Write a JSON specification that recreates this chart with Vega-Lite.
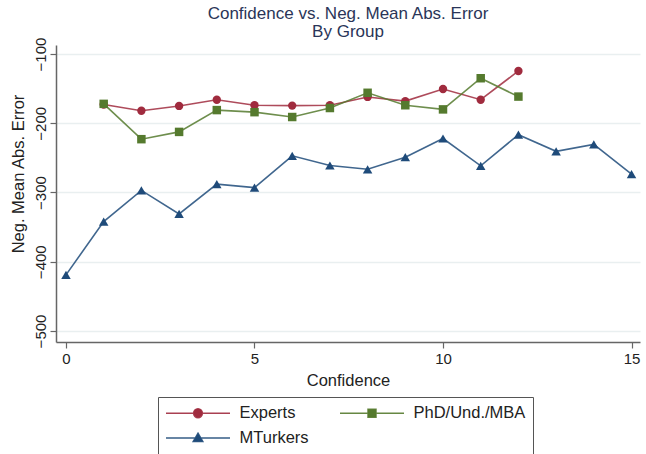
{
  "$schema": "https://vega.github.io/schema/vega-lite/v6.json",
  "width": 584,
  "height": 297,
  "autosize": {"type": "none"},
  "padding": {"left": 56, "top": 45, "right": 6, "bottom": 112},
  "background": "white",
  "config": {
    "font": "Liberation Sans",
    "view": {"stroke": null}
  },
  "title": {
    "text": "Confidence vs. Neg. Mean Abs. Error",
    "subtitle": "By Group",
    "fontSize": 17,
    "subtitleFontSize": 17,
    "fontWeight": "normal",
    "color": "#2a3558",
    "subtitleColor": "#2a3558",
    "subtitlePadding": 1,
    "anchor": "middle",
    "offset": -4
  },
  "data": {
    "values": [
      {"conf": 1, "err": -173, "group": "Experts"},
      {"conf": 2, "err": -182, "group": "Experts"},
      {"conf": 3, "err": -175, "group": "Experts"},
      {"conf": 4, "err": -166, "group": "Experts"},
      {"conf": 5, "err": -174, "group": "Experts"},
      {"conf": 6, "err": -174.5, "group": "Experts"},
      {"conf": 7, "err": -174, "group": "Experts"},
      {"conf": 8, "err": -162, "group": "Experts"},
      {"conf": 9, "err": -168, "group": "Experts"},
      {"conf": 10, "err": -150.5, "group": "Experts"},
      {"conf": 11, "err": -166, "group": "Experts"},
      {"conf": 12, "err": -124.5, "group": "Experts"},
      {"conf": 1, "err": -172, "group": "PhD/Und./MBA"},
      {"conf": 2, "err": -223, "group": "PhD/Und./MBA"},
      {"conf": 3, "err": -212.5, "group": "PhD/Und./MBA"},
      {"conf": 4, "err": -181, "group": "PhD/Und./MBA"},
      {"conf": 5, "err": -184, "group": "PhD/Und./MBA"},
      {"conf": 6, "err": -191, "group": "PhD/Und./MBA"},
      {"conf": 7, "err": -178, "group": "PhD/Und./MBA"},
      {"conf": 8, "err": -156, "group": "PhD/Und./MBA"},
      {"conf": 9, "err": -174, "group": "PhD/Und./MBA"},
      {"conf": 10, "err": -180, "group": "PhD/Und./MBA"},
      {"conf": 11, "err": -135, "group": "PhD/Und./MBA"},
      {"conf": 12, "err": -161.5, "group": "PhD/Und./MBA"},
      {"conf": 0, "err": -419, "group": "MTurkers"},
      {"conf": 1, "err": -342, "group": "MTurkers"},
      {"conf": 2, "err": -297, "group": "MTurkers"},
      {"conf": 3, "err": -331, "group": "MTurkers"},
      {"conf": 4, "err": -288, "group": "MTurkers"},
      {"conf": 5, "err": -293, "group": "MTurkers"},
      {"conf": 6, "err": -247, "group": "MTurkers"},
      {"conf": 7, "err": -261, "group": "MTurkers"},
      {"conf": 8, "err": -266.5, "group": "MTurkers"},
      {"conf": 9, "err": -249, "group": "MTurkers"},
      {"conf": 10, "err": -222, "group": "MTurkers"},
      {"conf": 11, "err": -261.5, "group": "MTurkers"},
      {"conf": 12, "err": -216.5, "group": "MTurkers"},
      {"conf": 13, "err": -240.5, "group": "MTurkers"},
      {"conf": 14, "err": -230.5, "group": "MTurkers"},
      {"conf": 15, "err": -273.5, "group": "MTurkers"}
    ]
  },
  "encoding": {
    "x": {
      "field": "conf",
      "type": "quantitative",
      "scale": {"domain": [-0.265, 15.225], "nice": false, "zero": false},
      "axis": {
        "values": [0, 5, 10, 15],
        "title": "Confidence",
        "grid": false,
        "domainColor": "#666666",
        "domainWidth": 1.5,
        "tickColor": "#666666",
        "tickSize": 6,
        "tickWidth": 1.2,
        "labelFontSize": 15,
        "labelPadding": 3,
        "labelColor": "#222222",
        "titleFontSize": 16.5,
        "titleFontWeight": "normal",
        "titleColor": "#222222",
        "titleY": 43,
        "titleBaseline": "alphabetic"
      }
    },
    "y": {
      "field": "err",
      "type": "quantitative",
      "scale": {"domain": [-515.9, -87], "nice": false, "zero": false},
      "axis": {
        "values": [-500, -400, -300, -200, -100],
        "title": "Neg. Mean Abs. Error",
        "grid": true,
        "gridColor": "#e9eff0",
        "gridWidth": 1.5,
        "domainColor": "#666666",
        "domainWidth": 1.5,
        "tickColor": "#666666",
        "tickSize": 6,
        "tickWidth": 1.2,
        "labelFontSize": 15,
        "labelAngle": -90,
        "labelAlign": "center",
        "labelBaseline": "alphabetic",
        "labelPadding": 5,
        "labelColor": "#222222",
        "titleFontSize": 16.5,
        "titleFontWeight": "normal",
        "titleColor": "#222222",
        "titleAngle": -90,
        "titleAlign": "center",
        "titleBaseline": "alphabetic",
        "titleX": -32.5,
        "titleY": 128.5
      }
    },
    "color": {
      "field": "group",
      "type": "nominal",
      "scale": {
        "domain": ["Experts", "PhD/Und./MBA", "MTurkers"],
        "range": ["#a02b3e", "#557a2e", "#1f4b7a"]
      },
      "legend": {
        "orient": "none",
        "direction": "horizontal",
        "legendX": 102,
        "legendY": 352,
        "columns": 2,
        "title": null,
        "padding": 7,
        "strokeColor": "#555555",
        "symbolSize": 256,
        "symbolStrokeWidth": 1.5,
        "labelFontSize": 16.5,
        "labelColor": "#222222",
        "labelOffset": 56.5,
        "columnPadding": 28,
        "rowPadding": 7,
        "encode": {
          "symbols": {
            "update": {
              "shape": {"signal": "datum.value === 'Experts' ? 'M-1,0H7M3.55,0A0.55,0.55,0,1,1,2.45,0A0.55,0.55,0,1,1,3.55,0Z' : (datum.value === 'MTurkers' ? 'M-1,0H7M3,-0.6L3.6,0.45L2.4,0.45Z' : 'M-1,0H7M2.5,-0.5H3.5V0.5H2.5Z')"},
              "fill": {"signal": "scale('color', datum.value)"},
              "stroke": {"signal": "scale('color', datum.value)"},
              "opacity": {"value": 1},
              "fillOpacity": {"value": 1},
              "strokeOpacity": {"value": 0.9}
            }
          }
        }
      }
    }
  },
  "layer": [
    {
      "mark": {"type": "line", "strokeWidth": 1.6, "strokeOpacity": 0.85}
    },
    {
      "transform": [{"filter": "datum.group === 'Experts'"}],
      "mark": {"type": "point", "filled": true, "opacity": 1, "size": 70, "shape": "circle"}
    },
    {
      "transform": [{"filter": "datum.group === 'PhD/Und./MBA'"}],
      "mark": {"type": "point", "filled": true, "opacity": 1, "size": 72, "shape": "square"}
    },
    {
      "transform": [{"filter": "datum.group === 'MTurkers'"}],
      "mark": {"type": "point", "filled": true, "opacity": 1, "size": 90, "shape": "triangle-up"}
    }
  ]
}
